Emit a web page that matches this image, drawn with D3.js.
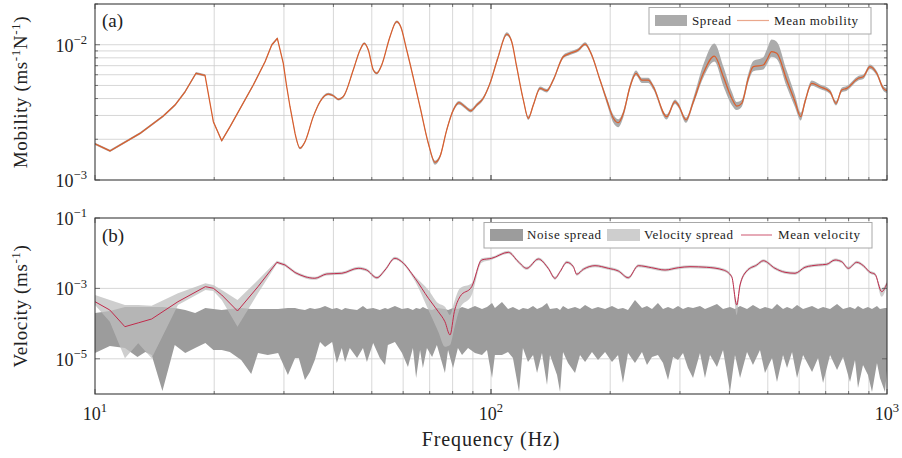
<!DOCTYPE html>
<html>
<head>
<meta charset="utf-8">
<script src="https://cdn.jsdelivr.net/npm/d3@7"></script>
<style>
  html, body { margin: 0; padding: 0; background: #fff; }
  svg { display: block; font-family: "Liberation Serif", "Times New Roman", serif; }
</style>
</head>
<body>
<svg id="chart" width="902" height="458"></svg>
<script>
// ---------- (a) point mobility: mean and spread over the measurements ----------
const mobilityFreq = [10, 10.91, 12.99, 14.87, 15.92, 16.88, 17.99, 18.96, 19.90, 20.89, 21.93, 25.10, 26.88, 27.94, 28.87, 29.89, 30.49, 31.08, 32.0, 32.94, 33.91, 35.58, 37.0, 38.82, 39.98, 41.16, 42.36, 44.89, 46.70, 47.86, 49.0, 50.45, 51.45, 52.97, 55.58, 57.78, 59.16, 61.25, 66.18, 69.45, 72.21, 74.33, 77.28, 80.31, 83.02, 85.96, 88.86, 92.02, 95.6, 99.4, 104.3, 109.6, 112.8, 116.1, 120.7, 124.2, 127.9, 133.0, 138.2, 143.6, 152.2, 158.3, 166.1, 172.8, 179.6, 188.5, 196.0, 203.7, 209.7, 215.9, 224.4, 232.4, 240.3, 249.6, 256.9, 277.8, 291.5, 297.2, 310.8, 324.3, 343.7, 366.4, 386.1, 405.4, 417.4, 429.7, 446.5, 459.7, 487.2, 496.9, 511.5, 526.7, 558.2, 585.8, 605.5, 620.8, 645.4, 677.3, 718.0, 743.4, 768.5, 791.1, 846.2, 871.3, 906.0, 942.0, 978.8, 1000];
const mobilityMean = [1.85e-3, 1.64e-3, 2.21e-3, 2.97e-3, 3.58e-3, 4.49e-3, 6.15e-3, 5.94e-3, 2.70e-3, 1.95e-3, 2.48e-3, 5.04e-3, 7.49e-3, 9.95e-3, 11.15e-3, 7.29e-3, 4.89e-3, 3.48e-3, 2.21e-3, 1.72e-3, 1.92e-3, 2.94e-3, 3.79e-3, 4.32e-3, 4.20e-3, 3.95e-3, 4.13e-3, 6.50e-3, 9.14e-3, 10.24e-3, 9.14e-3, 6.50e-3, 6.15e-3, 7.08e-3, 11.46e-3, 14.79e-3, 13.58e-3, 9.14e-3, 3.48e-3, 1.87e-3, 1.35e-3, 1.49e-3, 2.34e-3, 3.29e-3, 3.73e-3, 3.48e-3, 3.25e-3, 3.58e-3, 4.02e-3, 5.18e-3, 8.15e-3, 12.0e-3, 10.52e-3, 6.88e-3, 3.90e-3, 2.86e-3, 3.58e-3, 4.76e-3, 4.57e-3, 5.48e-3, 8.15e-3, 8.64e-3, 9.14e-3, 10.12e-3, 8.39e-3, 5.48e-3, 3.90e-3, 2.86e-3, 2.65e-3, 3.11e-3, 4.89e-3, 6.15e-3, 5.48e-3, 5.48e-3, 4.89e-3, 2.94e-3, 3.79e-3, 3.58e-3, 2.78e-3, 3.79e-3, 6.15e-3, 8.25e-3, 5.80e-3, 4.02e-3, 3.52e-3, 3.69e-3, 5.65e-3, 6.88e-3, 7.08e-3, 7.71e-3, 8.88e-3, 8.64e-3, 5.48e-3, 3.79e-3, 2.94e-3, 3.79e-3, 5.18e-3, 4.89e-3, 4.49e-3, 3.69e-3, 4.63e-3, 4.76e-3, 5.65e-3, 5.80e-3, 6.88e-3, 6.15e-3, 4.76e-3, 4.57e-3];
// spread as factors above / below the mean
const mobilitySpreadUp = [1.02, 1.02, 1.02, 1.02, 1.02, 1.02, 1.02, 1.02, 1.02, 1.02, 1.02, 1.02, 1.02, 1.02, 1.02, 1.02, 1.02, 1.02, 1.02, 1.02, 1.02, 1.02, 1.02, 1.02, 1.02, 1.02, 1.02, 1.02, 1.02, 1.02, 1.02, 1.02, 1.02, 1.02, 1.02, 1.02, 1.02, 1.02, 1.025, 1.025, 1.03, 1.03, 1.03, 1.03, 1.03, 1.03, 1.03, 1.03, 1.03, 1.03, 1.03, 1.03, 1.03, 1.03, 1.03, 1.03, 1.03, 1.03, 1.03, 1.03, 1.03, 1.03, 1.03, 1.03, 1.03, 1.03, 1.05, 1.06, 1.06, 1.05, 1.05, 1.05, 1.04, 1.04, 1.04, 1.04, 1.04, 1.04, 1.04, 1.07, 1.16, 1.24, 1.19, 1.12, 1.07, 1.06, 1.08, 1.10, 1.14, 1.19, 1.23, 1.22, 1.17, 1.12, 1.07, 1.05, 1.05, 1.04, 1.04, 1.04, 1.04, 1.04, 1.04, 1.04, 1.04, 1.04, 1.04, 1.04];
const mobilitySpreadDown = [1.02, 1.02, 1.02, 1.02, 1.02, 1.02, 1.02, 1.02, 1.02, 1.02, 1.02, 1.02, 1.02, 1.02, 1.02, 1.02, 1.02, 1.02, 1.02, 1.02, 1.02, 1.02, 1.02, 1.02, 1.02, 1.02, 1.02, 1.02, 1.02, 1.02, 1.02, 1.02, 1.02, 1.02, 1.02, 1.02, 1.02, 1.02, 1.025, 1.025, 1.04, 1.03, 1.03, 1.03, 1.03, 1.03, 1.03, 1.03, 1.03, 1.03, 1.03, 1.03, 1.03, 1.03, 1.03, 1.03, 1.03, 1.03, 1.03, 1.03, 1.03, 1.03, 1.03, 1.03, 1.03, 1.03, 1.06, 1.08, 1.08, 1.07, 1.05, 1.04, 1.05, 1.05, 1.05, 1.05, 1.04, 1.04, 1.05, 1.05, 1.08, 1.10, 1.17, 1.12, 1.07, 1.06, 1.07, 1.08, 1.08, 1.08, 1.09, 1.10, 1.12, 1.10, 1.07, 1.05, 1.04, 1.04, 1.04, 1.04, 1.04, 1.04, 1.04, 1.04, 1.04, 1.04, 1.04, 1.04];

// ---------- (b) response velocity: mean, spread, and noise floor ----------
const velocityFreq = [10, 10.9, 11.9, 12.86, 13.9, 16.2, 19.0, 19.9, 20.9, 22.9, 25.8, 28.8, 30.2, 32.0, 33.9, 35.9, 38.5, 42.0, 46.2, 48.5, 51.5, 54.0, 57.2, 59.5, 64.3, 69.5, 73.6, 76.5, 78.8, 80.8, 83.5, 89.4, 94.7, 100.4, 110.6, 117.2, 123.1, 131.7, 139.5, 145.1, 149.4, 155.4, 161.4, 164.6, 171.1, 183.1, 197.8, 209.7, 222.2, 235.5, 254.5, 275.1, 297.2, 318.1, 350.5, 386.1, 405.4, 417.4, 425.5, 442.4, 468.8, 487.1, 521.4, 552.6, 585.8, 620.8, 670.8, 704.3, 739.2, 768.5, 798.6, 838.6, 871.5, 906.0, 932.7, 969.7, 1000];
const velocityMean = [4.19e-4, 2.43e-4, 8.17e-5, 1.05e-4, 1.35e-4, 4.19e-4, 1.12e-3, 1.01e-3, 6.49e-4, 2.28e-4, 1.12e-3, 5.51e-3, 4.62e-3, 2.83e-3, 2.15e-3, 1.94e-3, 2.57e-3, 2.69e-3, 3.72e-3, 3.33e-3, 2.01e-3, 3.33e-3, 7.16e-3, 5.73e-3, 1.94e-3, 5.23e-4, 2.18e-4, 1.13e-4, 4.75e-5, 2.18e-4, 5.81e-4, 1.12e-3, 6.41e-3, 7.16e-3, 1.06e-2, 5.73e-3, 3.72e-3, 6.84e-3, 3.72e-3, 1.94e-3, 2.98e-3, 5.51e-3, 4.14e-3, 2.52e-3, 3.49e-3, 4.42e-3, 3.72e-3, 3.12e-3, 2.01e-3, 4.42e-3, 3.87e-3, 3.33e-3, 3.87e-3, 4.14e-3, 3.98e-3, 3.33e-3, 2.15e-3, 3.38e-4, 1.25e-3, 3.12e-3, 4.62e-3, 6.12e-3, 3.72e-3, 2.87e-3, 2.69e-3, 3.98e-3, 4.62e-3, 4.84e-3, 6.41e-3, 5.73e-3, 3.72e-3, 5.51e-3, 4.42e-3, 2.87e-3, 2.52e-3, 8.06e-4, 1.40e-3];
const velocitySpreadUp = [1.55, 1.92, 4.14, 3.23, 2.39, 1.73, 1.25, 1.24, 1.39, 2.05, 1.55, 1.10, 1.10, 1.10, 1.10, 1.10, 1.10, 1.10, 1.10, 1.10, 1.10, 1.10, 1.10, 1.10, 1.14, 1.73, 1.73, 2.67, 3.70, 1.92, 1.73, 1.25, 1.12, 1.10, 1.10, 1.10, 1.10, 1.10, 1.10, 1.10, 1.10, 1.10, 1.10, 1.10, 1.10, 1.10, 1.10, 1.10, 1.10, 1.10, 1.10, 1.10, 1.10, 1.10, 1.10, 1.10, 1.10, 1.22, 1.15, 1.10, 1.10, 1.10, 1.10, 1.10, 1.10, 1.10, 1.10, 1.10, 1.10, 1.10, 1.10, 1.10, 1.10, 1.10, 1.10, 1.22, 1.15];
const velocitySpreadDown = [1.24, 2.14, 7.9, 3.80, 13.1, 1.24, 1.24, 1.19, 1.39, 2.79, 1.55, 1.10, 1.10, 1.10, 1.10, 1.10, 1.10, 1.10, 1.10, 1.10, 1.10, 1.10, 1.10, 1.10, 1.22, 2.14, 3.70, 5.13, 1.92, 2.96, 2.14, 1.73, 1.20, 1.10, 1.10, 1.10, 1.10, 1.10, 1.10, 1.10, 1.10, 1.10, 1.10, 1.10, 1.10, 1.10, 1.10, 1.10, 1.10, 1.10, 1.10, 1.10, 1.10, 1.10, 1.10, 1.10, 1.10, 1.92, 1.25, 1.10, 1.10, 1.10, 1.10, 1.10, 1.10, 1.10, 1.10, 1.10, 1.10, 1.10, 1.10, 1.10, 1.10, 1.10, 1.10, 1.39, 1.15];

const noiseFreq = [10.0, 10.9, 11.9, 12.8, 13.4, 13.9, 14.8, 15.9, 16.9, 17.9, 19.0, 19.9, 20.9, 21.9, 23.4, 24.8, 25.8, 27.3, 29.0, 30.7, 32.0, 32.7, 33.9, 34.9, 35.9, 37.0, 38.1, 39.7, 40.8, 42.0, 42.8, 44.0, 45.9, 47.5, 48.6, 50.4, 52.4, 54.0, 54.9, 57.2, 59.6, 61.7, 63.5, 64.7, 66.2, 67.3, 68.9, 71.0, 73.0, 76.5, 77.9, 80.2, 82.5, 84.5, 87.5, 91.1, 94.9, 97.7, 100.6, 102.3, 106.6, 110.4, 113.6, 117.7, 120.4, 124.0, 127.7, 130.7, 134.5, 138.5, 140.9, 146.8, 149.4, 152.0, 156.5, 163.0, 167.8, 172.8, 179.9, 186.3, 194.1, 202.1, 209.3, 215.4, 221.8, 231.0, 240.6, 247.7, 255.0, 264.0, 271.9, 279.9, 288.2, 296.7, 305.4, 314.4, 323.7, 337.1, 347.0, 357.3, 372.1, 385.4, 401.4, 413.2, 425.5, 443.1, 458.7, 477.8, 491.9, 512.4, 527.5, 546.3, 559.2, 575.7, 592.7, 613.8, 646.8, 669.7, 689.5, 718.1, 747.9, 774.5, 806.5, 830.2, 844.8, 869.8, 895.4, 916.5, 943.4, 960.0, 988.3, 1000];
const noiseHigh = [2.00e-4, 2.28e-4, 2.96e-4, 2.96e-4, 2.96e-4, 2.96e-4, 2.96e-4, 2.77e-4, 2.43e-4, 2.00e-4, 2.77e-4, 2.60e-4, 2.43e-4, 2.60e-4, 2.77e-4, 2.60e-4, 2.60e-4, 2.60e-4, 2.60e-4, 2.77e-4, 2.77e-4, 2.60e-4, 2.43e-4, 2.77e-4, 2.60e-4, 2.77e-4, 3.16e-4, 2.60e-4, 2.77e-4, 2.43e-4, 2.77e-4, 2.60e-4, 2.43e-4, 3.16e-4, 2.60e-4, 2.77e-4, 2.43e-4, 2.77e-4, 2.60e-4, 3.16e-4, 2.60e-4, 2.77e-4, 2.43e-4, 2.77e-4, 2.60e-4, 2.96e-4, 2.60e-4, 2.43e-4, 2.77e-4, 2.60e-4, 2.43e-4, 2.77e-4, 2.60e-4, 2.96e-4, 2.60e-4, 3.16e-4, 2.60e-4, 2.96e-4, 3.85e-4, 2.77e-4, 4.11e-4, 2.60e-4, 2.96e-4, 2.43e-4, 2.77e-4, 2.60e-4, 3.16e-4, 2.60e-4, 2.96e-4, 3.85e-4, 2.60e-4, 2.77e-4, 2.43e-4, 3.16e-4, 2.60e-4, 2.96e-4, 2.60e-4, 3.38e-4, 2.60e-4, 2.96e-4, 2.60e-4, 3.16e-4, 2.60e-4, 2.77e-4, 2.43e-4, 4.68e-4, 2.77e-4, 3.16e-4, 2.60e-4, 3.85e-4, 2.60e-4, 2.96e-4, 2.60e-4, 3.16e-4, 2.60e-4, 2.96e-4, 2.77e-4, 3.16e-4, 2.60e-4, 2.96e-4, 3.60e-4, 2.60e-4, 2.96e-4, 2.60e-4, 3.16e-4, 2.60e-4, 3.38e-4, 2.60e-4, 2.96e-4, 2.60e-4, 3.60e-4, 2.60e-4, 2.96e-4, 2.60e-4, 3.38e-4, 2.60e-4, 3.16e-4, 2.60e-4, 2.96e-4, 2.60e-4, 3.60e-4, 2.60e-4, 2.96e-4, 2.60e-4, 3.16e-4, 2.60e-4, 2.96e-4, 2.60e-4, 3.16e-4, 2.60e-4, 2.77e-4, 2.77e-4];
const noiseLow = [1.46e-5, 2.31e-5, 2.03e-5, 1.12e-5, 1.56e-5, 1.28e-5, 1.22e-6, 2.47e-5, 1.46e-5, 2.03e-5, 2.81e-5, 1.78e-5, 1.78e-5, 1.56e-5, 9.24e-6, 3.70e-6, 1.46e-5, 1.28e-5, 1.46e-5, 3.47e-6, 1.05e-5, 1.05e-5, 2.50e-6, 4.22e-6, 9.24e-6, 3.00e-5, 2.16e-5, 3.00e-5, 7.60e-6, 2.03e-5, 8.11e-6, 2.03e-5, 1.05e-5, 2.03e-5, 8.11e-6, 2.81e-5, 1.05e-5, 6.67e-6, 2.47e-5, 3.00e-5, 1.46e-5, 5.85e-6, 2.03e-5, 2.85e-6, 1.78e-5, 5.48e-6, 2.03e-5, 1.12e-5, 2.47e-5, 3.95e-6, 1.78e-5, 5.48e-6, 2.03e-5, 1.28e-5, 2.03e-5, 1.46e-5, 1.28e-5, 1.78e-5, 2.85e-6, 1.28e-5, 1.28e-5, 1.56e-5, 1.05e-5, 1.14e-6, 2.03e-5, 8.11e-6, 1.28e-5, 3.95e-6, 1.46e-5, 1.80e-6, 1.28e-5, 3.47e-6, 1.14e-6, 1.56e-5, 7.60e-6, 3.95e-6, 1.28e-5, 8.11e-6, 1.56e-5, 9.24e-6, 1.56e-5, 8.11e-6, 1.28e-5, 2.05e-6, 1.46e-5, 7.60e-6, 1.56e-5, 6.67e-6, 1.12e-5, 1.28e-5, 7.60e-6, 2.50e-6, 1.12e-5, 9.24e-6, 1.46e-5, 5.48e-6, 2.85e-6, 1.46e-5, 2.85e-6, 1.28e-5, 5.85e-6, 1.78e-5, 1.14e-6, 1.28e-5, 2.85e-6, 1.56e-5, 6.67e-6, 1.78e-5, 3.95e-6, 1.05e-5, 2.19e-6, 1.28e-5, 5.48e-6, 1.56e-5, 2.85e-6, 1.28e-5, 4.22e-6, 1.05e-5, 2.05e-6, 1.28e-5, 4.81e-6, 1.12e-5, 2.19e-6, 9.24e-6, 1.48e-6, 6.67e-6, 3.47e-6, 1.14e-6, 7.60e-6, 2.85e-6, 1.14e-6, 4.81e-6];

// ---------- axes ----------
const freqTicks = [10, 100, 1000];
const mobilityTicks = [1e-3, 1e-2];
const velocityTicks = [1e-5, 1e-3, 1e-1];
// below this frequency the spectra are coarse (1 Hz bins): joined by straight segments
const linearBelowHz = 32;

const colors = {
  mobility: "#d95f2e",
  mobilitySpread: "#ababab",
  velocity: "#c12a4b",
  velocitySpread: "#bdbdbd",
  noise: "#9c9c9c",
  grid: "#cdcdcd",
  frame: "#3a3a3a"
};

const svg = d3.select("#chart");
const plotLeft = 95, plotRight = 887;
const panels = {
  a: { top: 4, bottom: 180 },
  b: { top: 218, bottom: 394 }
};

const x = d3.scaleLog().domain([10, 1000]).range([plotLeft, plotRight]);
const yA = d3.scaleLog().domain([1e-3, 2e-2]).range([panels.a.bottom, panels.a.top]);
const yB = d3.scaleLog().domain([1e-6, 1e-1]).range([panels.b.bottom, panels.b.top]);

const defs = svg.append("defs");
Object.entries(panels).forEach(([k, p]) => {
  defs.append("clipPath").attr("id", "clip-" + k)
    .append("rect").attr("x", plotLeft).attr("y", p.top)
    .attr("width", plotRight - plotLeft).attr("height", p.bottom - p.top);
});

const minorX = x.ticks().filter(t => t > 10 && t < 1000);

// path builders: straight segments for the coarse low band, smooth above
function splitPath(data, gen) {
  const low = data.filter(d => d.f <= linearBelowHz);
  const high = data.filter(d => d.f >= linearBelowHz);
  return gen(d3.curveLinear)(low) + gen(d3.curveMonotoneX)(high);
}
const lineGen = (yScale) => (curve) => d3.line().x(d => x(d.f)).y(d => yScale(d.m)).curve(curve);
const bandGen = (yScale) => (curve) => d3.area().x(d => x(d.f)).y0(d => yScale(d.lo)).y1(d => yScale(d.hi)).curve(curve);

function drawGrid(g, yScale, p, yGrid) {
  g.append("g").selectAll("line").data(minorX).join("line")
    .attr("x1", d => x(d)).attr("x2", d => x(d))
    .attr("y1", p.top).attr("y2", p.bottom)
    .attr("stroke", colors.grid).attr("stroke-width", 0.8);
  g.append("g").selectAll("line").data(yGrid).join("line")
    .attr("x1", plotLeft).attr("x2", plotRight)
    .attr("y1", d => yScale(d)).attr("y2", d => yScale(d))
    .attr("stroke", colors.grid).attr("stroke-width", 0.8);
}

function superLabel(sel, exponent, size) {
  sel.append("tspan").text("10");
  sel.append("tspan").attr("dy", -size * 0.42).attr("font-size", size * 0.7)
    .text(exponent < 0 ? "\u2212" + (-exponent) : String(exponent));
}

function drawFrame(g, yScale, p, yTickVals, yMinor) {
  // inward tick marks
  const tk = g.append("g").attr("stroke", "#555").attr("stroke-width", 0.8);
  minorX.concat(freqTicks).forEach(t => {
    const len = freqTicks.includes(t) ? 5 : 3;
    tk.append("line").attr("x1", x(t)).attr("x2", x(t)).attr("y1", p.bottom).attr("y2", p.bottom - len);
    tk.append("line").attr("x1", x(t)).attr("x2", x(t)).attr("y1", p.top).attr("y2", p.top + len);
  });
  yMinor.forEach(t => {
    const len = yTickVals.includes(t) ? 5 : 3;
    tk.append("line").attr("x1", plotLeft).attr("x2", plotLeft + len).attr("y1", yScale(t)).attr("y2", yScale(t));
    tk.append("line").attr("x1", plotRight).attr("x2", plotRight - len).attr("y1", yScale(t)).attr("y2", yScale(t));
  });
  g.append("rect").attr("x", plotLeft).attr("y", p.top)
    .attr("width", plotRight - plotLeft).attr("height", p.bottom - p.top)
    .attr("fill", "none").attr("stroke", colors.frame).attr("stroke-width", 1.1);
  // y tick labels
  g.append("g").selectAll("text").data(yTickVals).join("text")
    .attr("x", plotLeft - 8).attr("y", d => yScale(d) + 7)
    .attr("text-anchor", "end").attr("font-size", 18).attr("fill", "#222")
    .each(function (d) { superLabel(d3.select(this), Math.round(Math.log10(d)), 18); });
}

// ---------- panel (a) ----------
const gA = svg.append("g");
drawGrid(gA, yA, panels.a, yA.ticks().filter(t => t > 1e-3 && t < 2e-2));

const mob = mobilityFreq.map((f, i) => ({
  f, m: mobilityMean[i],
  hi: mobilityMean[i] * mobilitySpreadUp[i],
  lo: mobilityMean[i] / mobilitySpreadDown[i]
}));
const plotA = gA.append("g").attr("clip-path", "url(#clip-a)");
plotA.append("path").attr("d", splitPath(mob, bandGen(yA)))
  .attr("fill", colors.mobilitySpread);
plotA.append("path").attr("d", splitPath(mob, lineGen(yA)))
  .attr("fill", "none").attr("stroke", colors.mobility).attr("stroke-width", 1.25)
  .attr("stroke-linejoin", "round");

drawFrame(gA, yA, panels.a, mobilityTicks, yA.ticks());

// ---------- panel (b) ----------
const gB = svg.append("g");
drawGrid(gB, yB, panels.b, [1e-5, 1e-3]);

const plotB = gB.append("g").attr("clip-path", "url(#clip-b)");
const noise = noiseFreq.map((f, i) => ({ f, lo: noiseLow[i], hi: noiseHigh[i] }));
plotB.append("path").datum(noise)
  .attr("d", d3.area().x(d => x(d.f)).y0(d => yB(d.lo)).y1(d => yB(d.hi)))
  .attr("fill", colors.noise);

const vel = velocityFreq.map((f, i) => ({
  f, m: velocityMean[i],
  hi: velocityMean[i] * velocitySpreadUp[i],
  lo: velocityMean[i] / velocitySpreadDown[i]
}));
plotB.append("path").attr("d", splitPath(vel, bandGen(yB)))
  .attr("fill", colors.velocitySpread).attr("fill-opacity", 0.75);
plotB.append("path").attr("d", splitPath(vel, lineGen(yB)))
  .attr("fill", "none").attr("stroke", colors.velocity).attr("stroke-width", 1.0)
  .attr("stroke-linejoin", "round");

drawFrame(gB, yB, panels.b, velocityTicks, velocityTicks);

// ---------- x axis labels ----------
svg.append("g").selectAll("text").data(freqTicks).join("text")
  .attr("x", d => x(d)).attr("y", 420)
  .attr("text-anchor", "middle").attr("font-size", 18).attr("fill", "#222")
  .each(function (d) { superLabel(d3.select(this), Math.round(Math.log10(d)), 18); });

svg.append("text").attr("x", (plotLeft + plotRight) / 2).attr("y", 446)
  .attr("text-anchor", "middle").attr("font-size", 20).attr("letter-spacing", 0.9)
  .attr("fill", "#222").text("Frequency (Hz)");

// ---------- y axis titles ----------
const yTitleA = svg.append("text")
  .attr("transform", "translate(27," + ((panels.a.top + panels.a.bottom) / 2) + ") rotate(-90)")
  .attr("text-anchor", "middle").attr("font-size", 19).attr("letter-spacing", 0.6).attr("fill", "#222");
yTitleA.append("tspan").text("Mobility (ms");
yTitleA.append("tspan").attr("dy", -7).attr("font-size", 13).text("-1");
yTitleA.append("tspan").attr("dy", 7).text("N");
yTitleA.append("tspan").attr("dy", -7).attr("font-size", 13).text("-1");
yTitleA.append("tspan").attr("dy", 7).text(")");

const yTitleB = svg.append("text")
  .attr("transform", "translate(27," + ((panels.b.top + panels.b.bottom) / 2) + ") rotate(-90)")
  .attr("text-anchor", "middle").attr("font-size", 19).attr("letter-spacing", 0.6).attr("fill", "#222");
yTitleB.append("tspan").text("Velocity (ms");
yTitleB.append("tspan").attr("dy", -7).attr("font-size", 13).text("-1");
yTitleB.append("tspan").attr("dy", 7).text(")");

// ---------- panel letters ----------
svg.append("text").attr("x", 102).attr("y", 27).attr("font-size", 19).attr("fill", "#222").text("(a)");
svg.append("text").attr("x", 102).attr("y", 242).attr("font-size", 19).attr("fill", "#222").text("(b)");

// ---------- legends ----------
function legendBox(x0, y0, w, h) {
  svg.append("rect").attr("x", x0).attr("y", y0).attr("width", w).attr("height", h)
    .attr("fill", "#fff").attr("fill-opacity", 0.95).attr("stroke", "#a8a8a8").attr("stroke-width", 1);
}
function legendText(x0, y0, s) {
  svg.append("text").attr("x", x0).attr("y", y0).attr("font-size", 13)
    .attr("letter-spacing", 0.6).attr("fill", "#222").text(s);
}

legendBox(649, 7.5, 222, 26.5);
svg.append("rect").attr("x", 655).attr("y", 15).attr("width", 32).attr("height", 11).attr("fill", colors.mobilitySpread);
legendText(692, 24.5, "Spread");
svg.append("line").attr("x1", 737).attr("x2", 769).attr("y1", 20.5).attr("y2", 20.5)
  .attr("stroke", colors.mobility).attr("stroke-opacity", 0.55).attr("stroke-width", 1.2);
legendText(774, 24.5, "Mean mobility");

legendBox(484, 222.5, 388, 25.5);
svg.append("rect").attr("x", 490).attr("y", 229).attr("width", 33).attr("height", 12).attr("fill", colors.noise);
legendText(527, 238.5, "Noise spread");
svg.append("rect").attr("x", 607).attr("y", 229).attr("width", 33).attr("height", 12)
  .attr("fill", colors.velocitySpread).attr("fill-opacity", 0.75);
legendText(644, 238.5, "Velocity spread");
svg.append("line").attr("x1", 741).attr("x2", 772).attr("y1", 235).attr("y2", 235)
  .attr("stroke", colors.velocity).attr("stroke-opacity", 0.8).attr("stroke-width", 1);
legendText(778, 238.5, "Mean velocity");
</script>
</body>
</html>
